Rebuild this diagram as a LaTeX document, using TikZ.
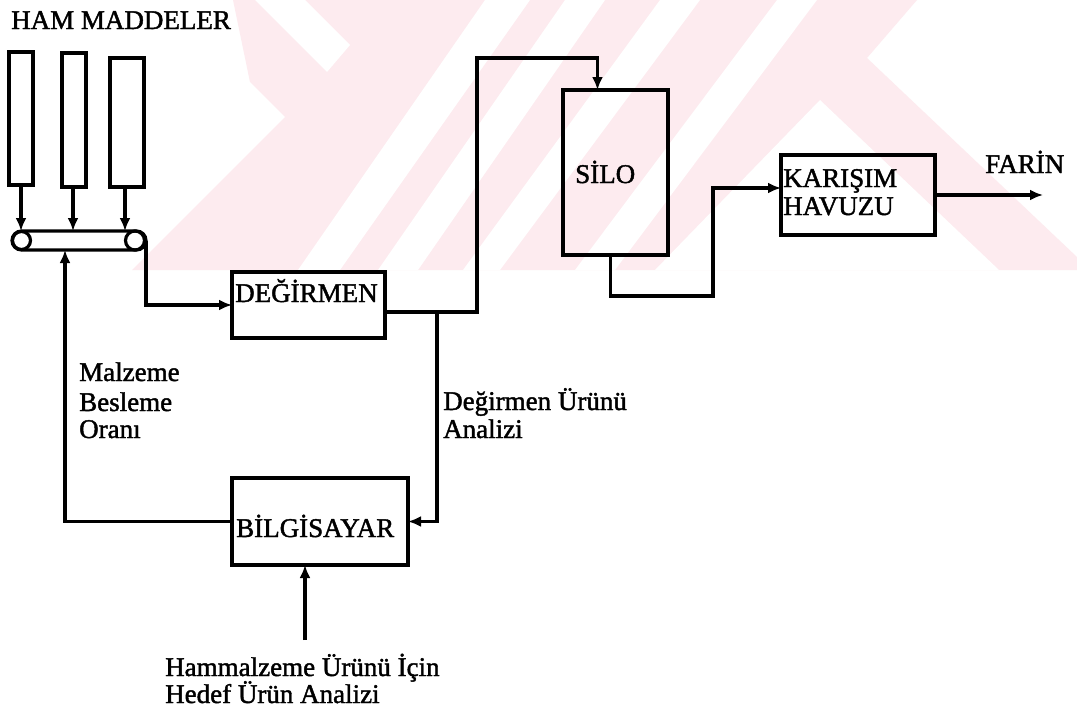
\documentclass[tikz,border=0pt]{standalone}
\usepackage{fontspec}
\setmainfont[FakeBold=1.6]{Liberation Serif}
\usetikzlibrary{arrows.meta}
\definecolor{wm}{RGB}{253,235,239}
\begin{document}
\begin{tikzpicture}[x=1pt,y=-1pt,line join=miter,
  ln/.style={line width=3.2pt},
  arr/.style={ln,-{Latex[length=13pt,width=11pt]}},
  box/.style={draw,line width=3.2pt,inner sep=0pt,outer sep=0pt},
  lbl/.style={inner sep=0pt,anchor=base west,font=\fontsize{27}{30}\selectfont}]
\useasboundingbox (0,0) rectangle (1077,707);
\fill[white] (0,0) rectangle (1077,707);
% watermark
\fill[wm] (233,0) -- (250,82) -- (285,117) -- (132,270) -- (1077,270) -- (1077,257) -- (867,58) -- (917,0) -- cycle;
\fill[white] (255,0) -- (305,0) -- (350,45) -- (327,72) -- cycle;
\fill[white] (298,270) -- (340,270) -- (530,0) -- (485,0) -- cycle;
\fill[white] (378,270) -- (418,270) -- (605,0) -- (565,0) -- cycle;
\fill[white] (463,270) -- (500,270) -- (700,0) -- (660,0) -- cycle;
\fill[white] (575,270) -- (615,270) -- (817,0) -- (777,0) -- cycle;
\fill[white] (820,100) -- (999,270) -- (655,270) -- cycle;
% raw materials
\node[lbl] (ham) at (11,29) {HAM MADDELER};
\node[box,minimum width=24pt,minimum height=133pt] (bin1) at (21,118.5) {};
\node[box,minimum width=24pt,minimum height=134pt] (bin2) at (74,120) {};
\node[box,minimum width=34pt,minimum height=129pt] (bin3) at (127,122.5) {};
\node[box,rounded corners=9.5pt,minimum width=134pt,minimum height=19pt] (belt) at (79,240.5) {};
\node[box,circle,minimum size=18pt] (r1) at (21.5,240.5) {};
\node[box,circle,minimum size=19pt] (r2) at (135,240.5) {};
\draw[arr] (bin1.south) -- (bin1.south |- belt.north);
\draw[arr] ([xshift=-1pt]bin2.south) -- ([xshift=-1pt]bin2.south |- belt.north);
\draw[arr] ([xshift=-2pt]bin3.south) -- ([xshift=-2pt]bin3.south |- belt.north);
% boxes
\node[box,minimum width=153pt,minimum height=66pt] (deg) at (308.5,305) {};
\node[lbl] (degt) at (235,302) {DEĞİRMEN};
\node[box,minimum width=105pt,minimum height=165pt] (silo) at (615.5,172.5) {};
\node[lbl] (silot) at (575,183) {SİLO};
\node[box,minimum width=154pt,minimum height=80pt] (kar) at (858,195) {};
\node[lbl] (kart1) at (783,187) {KARIŞIM};
\node[lbl] (kart2) at (783,215) {HAVUZU};
\node[box,minimum width=176pt,minimum height=87pt] (bil) at (320,521.5) {};
\node[lbl] (bilt) at (236,537) {BİLGİSAYAR};
\node[lbl] (farin) at (985,173) {FARİN};
% labels
\node[lbl] (m1) at (79,381) {Malzeme};
\node[lbl] (m2) at (79,411) {Besleme};
\node[lbl] (m3) at (79,438) {Oranı};
\node[lbl] (d1) at (443,410) {Değirmen Ürünü};
\node[lbl] (d2) at (443,438) {Analizi};
\node[lbl] (h1) at (165,676) {Hammalzeme Ürünü İçin};
\node[lbl] (h2) at (165,703) {Hedef Ürün Analizi};
% connectors
\coordinate (j1) at (437,312);
\coordinate (up) at (477,58);
\coordinate (j2) at (713,296);
\coordinate (fo) at (1043,195);
\coordinate (hb) at (305,640);
\draw[arr] (belt.east) |- (deg.west);
\draw[arr] (bil.west) -| ([xshift=-14pt]belt.south);
\draw[arr] ([yshift=-7pt]deg.east) -- (up |- j1) -- (up) -| ([xshift=-18pt]silo.north);
\draw[arr] (j1) |- (bil.east);
\draw[arr] ([xshift=-5pt]silo.south) |- (j2) |- ([yshift=7pt]kar.west);
\draw[arr] (kar.east) -- (fo);
\draw[arr] (hb) -- (hb |- bil.south);
\end{tikzpicture}
\end{document}
